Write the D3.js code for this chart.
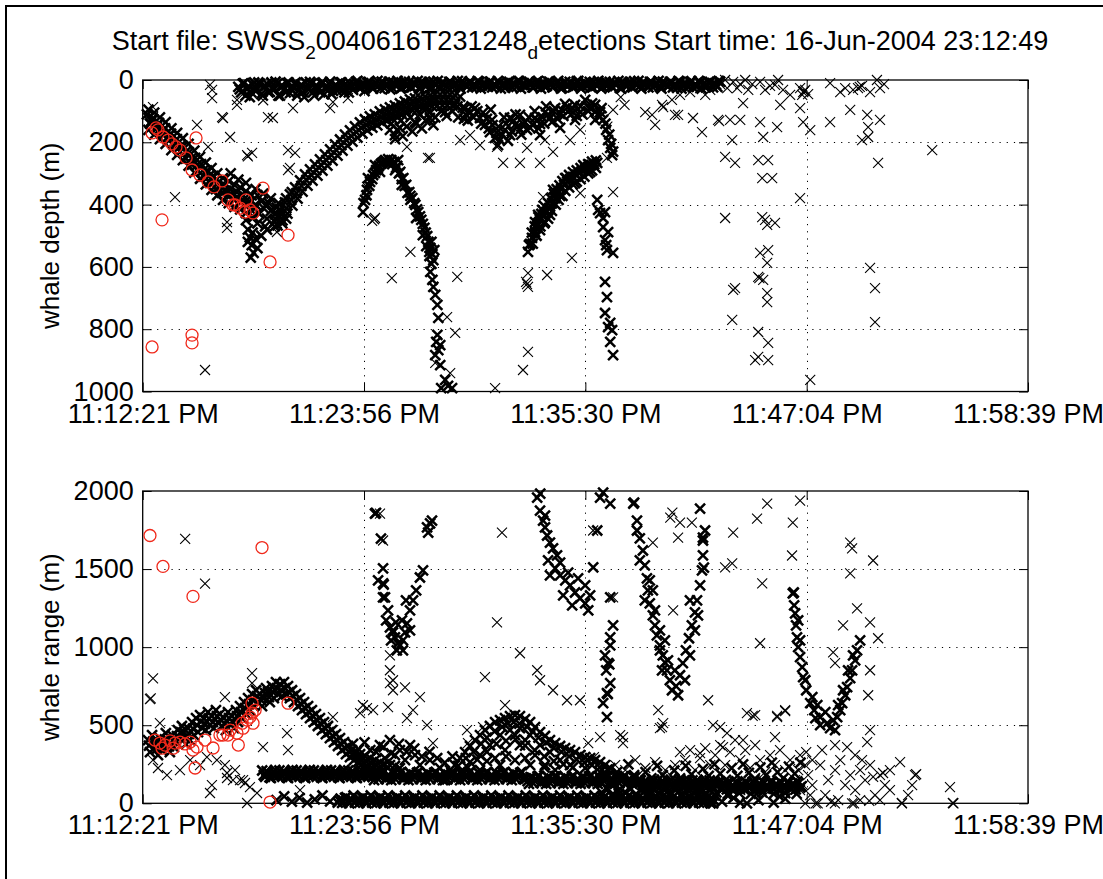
<!DOCTYPE html>
<html>
<head>
<meta charset="utf-8">
<script src="https://cdn.jsdelivr.net/npm/d3@7"></script>
<style>
  html, body { margin: 0; padding: 0; background: #fff; }
  svg { display: block; }
  text { font-family: "Liberation Sans", Arial, Helvetica, sans-serif; fill: #000; }
</style>
</head>
<body>
<svg id="fig" width="1103" height="879"></svg>
<script>
// ---- axis labels and ticks ----
const titleParts = ["Start file: SWSS", "2", "0040616T231248", "d", "etections Start time: 16-Jun-2004 23:12:49"];
const timeTicks = [0, 11.575, 23.15, 34.725, 46.3];           // minutes after 23:12:21
const timeTickLabels = ["11:12:21 PM", "11:23:56 PM", "11:35:30 PM", "11:47:04 PM", "11:58:39 PM"];
const depthTicks = [0, 200, 400, 600, 800, 1000];
const rangeTicks = [0, 500, 1000, 1500, 2000];

// ---- whale depth detections: [minutes after 23:12:21, depth m] ----
const depthSurface = [
[5.0,22],[5.15,40],[5.3,10],[5.45,30],[5.6,55],[5.75,15],[5.9,35],[6.05,8],[6.2,45],[6.35,20],[6.5,12],[6.65,38],[6.8,25],[6.95,5],[7.1,50],[7.25,18],[7.4,30],[7.55,10],[7.7,42],[7.85,22],
[8.0,8],[8.15,35],[8.3,15],[8.45,55],[8.6,25],[8.75,6],[8.9,40],[9.05,18],[9.2,30],[9.35,10],[9.5,45],[9.65,22],[9.8,5],[9.95,35],[10.1,15],[10.25,28],[10.4,8],[10.55,40],[10.7,20],[10.85,12],
[11.0,32],[11.15,6],[11.3,24],[11.45,14],[11.6,36],[11.75,8],[11.9,20],[12.05,28],[12.2,10],[12.35,18],[12.5,5],[12.65,26],[12.8,14],[12.95,30],[13.1,8],[13.25,20],[13.4,12],[13.55,25],[13.7,4],[13.85,17],
[14.0,22],[14.15,9],[14.3,15],[14.45,26],[14.6,6],[14.75,18],[14.9,12],[15.05,24],[15.2,5],[15.35,16],[15.5,21],[15.65,9],[15.8,14],[15.95,25],[16.1,6],[16.25,18],[16.4,11],[16.55,22],[16.7,4],[16.85,16],
[17.0,20],[17.15,8],[17.3,14],[17.45,24],[17.6,6],[17.75,17],[17.9,11],[18.05,22],[18.2,5],[18.35,15],[18.5,20],[18.65,9],[18.8,14],[18.95,25],[19.1,6],[19.25,18],[19.4,11],[19.55,22],[19.7,4],[19.85,16],
[20.0,20],[20.15,8],[20.3,14],[20.45,24],[20.6,6],[20.75,17],[20.9,11],[21.05,22],[21.2,5],[21.35,15],[21.5,20],[21.65,9],[21.8,14],[21.95,25],[22.1,6],[22.25,18],[22.4,11],[22.55,22],[22.7,4],[22.85,16],
[23.0,20],[23.15,8],[23.3,14],[23.45,24],[23.6,6],[23.75,17],[23.9,11],[24.05,22],[24.2,5],[24.35,15],[24.5,20],[24.65,9],[24.8,14],[24.95,25],[25.1,6],[25.25,18],[25.4,11],[25.55,22],[25.7,4],[25.85,16],
[26.0,20],[26.15,8],[26.3,14],[26.45,24],[26.6,6],[26.75,17],[26.9,11],[27.05,22],[27.2,5],[27.35,15],[27.5,20],[27.65,9],[27.8,14],[27.95,25],[28.1,6],[28.25,18],[28.4,11],[28.55,22],[28.7,4],[28.85,16],
[29.0,20],[29.15,8],[29.3,14],[29.45,24],[29.6,6],[29.75,17],[29.9,11],[30.05,22],[30.2,5],
[5.08,30],[5.23,12],[5.38,50],[5.53,20],[5.68,40],[5.83,8],[5.98,30],[6.13,12],[6.28,50],[6.43,20],[6.58,40],[6.73,8],[6.88,30],[7.03,12],[7.18,50],[7.33,20],[7.48,40],[7.63,8],[7.78,30],[7.93,12],
[8.08,50],[8.23,20],[8.38,40],[8.53,8],[8.68,30],[8.83,12],[8.98,50],[9.13,20],[9.28,40],[9.43,8],[9.58,30],[9.73,12],[9.88,45],[10.03,20],[10.18,35],[10.33,8],[10.48,30],[10.63,12],[10.78,40],[10.93,20],
[11.08,15],[11.23,3],[11.38,28],[11.53,10],[11.68,20],[11.83,6],[11.98,24],[12.13,15],[12.28,3],[12.43,28],[12.58,10],[12.73,20],[12.88,6],[13.03,24],[13.18,15],[13.33,3],[13.48,28],[13.63,10],[13.78,20],[13.93,6],
[14.08,24],[14.23,15],[14.38,3],[14.53,28],[14.68,10],[14.83,20],[14.98,6],[15.13,24],[15.28,15],[15.43,3],[15.58,28],[15.73,10],[15.88,20],[16.03,6],[16.18,24],[16.33,15],[16.48,3],[16.63,28],[16.78,10],[16.93,20],
[17.08,6],[17.23,24],[17.38,15],[17.53,3],[17.68,28],[17.83,10],[17.98,20],[18.13,6],[18.28,24],[18.43,15],[18.58,3],[18.73,28],[18.88,10],[19.03,20],[19.18,6],[19.33,24],[19.48,15],[19.63,3],[19.78,28],[19.93,10],
[20.08,20],[20.23,6],[20.38,24],[20.53,15],[20.68,3],[20.83,28],[20.98,10],[21.13,20],[21.28,6],[21.43,24],[21.58,15],[21.73,3],[21.88,28],[22.03,10],[22.18,20],[22.33,6],[22.48,24],[22.63,15],[22.78,3],[22.93,28],
[23.08,10],[23.23,20],[23.38,6],[23.53,24],[23.68,15],[23.83,3],[23.98,28],[24.13,10],[24.28,20],[24.43,6],[24.58,24],[24.73,15],[24.88,3],[25.03,28],[25.18,10],[25.33,20],[25.48,6],[25.63,24],[25.78,15],[25.93,3],
[26.08,28],[26.23,10],[26.38,20],[26.53,6],[26.68,24],[26.83,15],[26.98,3],[27.13,28],[27.28,10],[27.43,20],[27.58,6],[27.73,24],[27.88,15],[28.03,3],[28.18,28],[28.33,10],[28.48,20],[28.63,6],[28.78,24],[28.93,15],
[29.08,3],[29.23,28],[29.38,10],[29.53,20],[29.68,6],[29.83,24],[29.98,15],[30.13,3]
];
const depthDescent = [
[0.22,110],[0.38,140],[0.54,125],[0.70,158],[0.85,138],[1.01,172],[1.17,155],[1.32,192],[1.48,172],[1.64,210],[1.79,190],[1.95,230],[2.11,212],[2.26,252],[2.42,232],[2.58,272],[2.74,250],[2.89,292],
[3.05,270],[3.21,310],[3.36,290],[3.52,330],[3.68,308],[3.83,350],[3.99,326],[4.15,362],[4.30,338],[4.46,372],[4.62,350],[4.77,385],[4.93,360],[5.09,392],[5.25,370],[5.40,405],[5.56,390],[5.72,420],
[0.3,95],[0.3,160],[0.6,105],[0.6,175],[0.9,120],[0.9,190],[1.2,135],[1.2,205],[1.5,155],[1.5,225],[1.8,170],[1.8,240],[2.1,187],[2.1,257],[2.4,205],[2.4,275],[2.7,227],[2.7,297],[3.0,247],[3.0,317],
[3.3,265],[3.3,335],[3.6,283],[3.6,353],[3.9,300],[3.9,370],[4.2,315],[4.2,385],[4.5,325],[4.5,395],[4.8,337],[4.8,407],[5.1,345],[5.1,415],[5.4,357],[5.4,427],[5.7,370],[5.7,440],
[0.45,132],[0.75,148],[1.05,162],[1.35,180],[1.65,198],[1.95,213],[2.25,231],[2.55,251],[2.85,272],[3.15,291],[3.45,309],[3.75,326],[4.05,342],[4.35,355],[4.65,366],[4.95,376],[5.25,386],[5.55,398],
[5.9,400],[6.1,430],[6.3,410],[6.5,445],[6.7,420],[6.9,455],[7.1,435],[7.3,460],[6.0,460],[6.4,470],[5.8,440],[6.2,390],[6.6,395],[7.0,410],
[4.6,300],[5.0,320],[5.4,330],[5.9,350],[6.3,365],[6.7,380],[7.1,395],[7.5,380],[7.8,360],[6.0,370],[6.5,400],[7.2,420],[6.9,470],[6.5,480],[6.2,500],[7.5,445],
[5.4,450],[5.5,480],[5.6,505],[5.7,530],[5.8,555],[5.5,520],[5.65,570],[5.9,510],[5.75,490],[6.0,540]
];
const depthAscent = [
[6.92,431],[7.05,467],[7.18,415],[7.31,451],[7.44,393],[7.57,429],[7.70,367],[7.83,403],[7.97,345],[8.10,381],[8.23,322],[8.36,358],[8.49,303],[8.62,339],[8.75,287],[8.88,323],
[9.01,271],[9.14,307],[9.27,255],[9.40,291],[9.53,239],[9.66,275],[9.80,223],[9.93,259],[10.06,207],[10.19,243],[10.32,191],[10.45,227],[10.58,175],[10.71,211],[10.84,162],[10.97,198],
[11.10,149],[11.23,185],[11.36,136],[11.49,172],[11.62,126],[11.75,162],[11.88,117],[12.01,153],[12.14,110],[12.27,146],[12.40,101],[12.53,137],[12.67,94],[12.80,130],[12.93,88],[13.06,124],
[13.19,82],[13.32,118],[13.45,75],[13.58,111],[13.71,69],[13.84,105],[13.98,62],[14.11,98],[14.24,59],[14.37,95],[14.50,56],[14.63,92],[14.76,53],[14.89,89],[15.02,49],[15.15,85],
[15.28,46],[15.41,82],[15.55,46],[15.68,82],[15.81,46],[15.94,82],[16.07,46],[16.20,82],[16.33,49],[16.46,85],[16.60,53],[16.73,89],
[6.98,449],[7.25,433],[7.51,411],[7.77,385],[8.04,363],[8.30,340],[8.56,321],[8.82,305],[9.08,289],[9.34,273],[9.60,257],[9.87,241],[10.13,225],[10.39,209],[10.65,193],[10.91,180],
[11.17,167],[11.43,154],[11.69,144],[11.95,135],[12.21,128],[12.47,119],[12.74,112],[13.00,106],[13.26,100],[13.52,93],[13.78,87],[14.05,80],[14.31,77],[14.57,74],[14.83,71],[15.09,67],
[15.35,64],[15.62,64],[15.88,64],[16.14,64],[16.40,67]
];
const depthMidBand = [
[16.86,90],[17.12,103],[17.38,90],[17.64,122],[17.90,144],[18.16,167],[18.42,186],[18.69,193],[18.95,160],[19.21,177],[19.47,144],[19.73,160],[20.00,135],[20.26,154],[20.52,122],[20.78,141],
[21.04,103],[21.30,122],[21.57,90],[21.83,109],[22.09,77],[22.35,96],[22.61,80],[22.88,103],[23.14,64],[23.40,90],[23.66,80],[23.92,103],[24.08,128],[24.24,160],[24.34,193],[24.45,218],[24.55,241],
[18.58,209],[18.27,128],[19.21,122],[19.73,112],[20.78,177],[21.83,154],[22.61,128],[23.66,128],[16.33,80],[15.81,103],[15.02,122],[14.24,135],[13.45,154],[13.19,177],[12.93,160],
[16.9,110],[17.0,130],[17.3,120],[17.5,100],[17.7,140],[17.8,105],[18.0,125],[18.1,155],[18.3,145],[18.5,170],[18.6,150],[18.8,175],[19.0,140],[19.1,195],[19.3,165],[19.4,130],[19.6,150],[19.8,175],
[19.9,140],[20.1,160],[20.2,120],[20.4,145],[20.6,130],[20.7,155],[20.9,120],[21.0,140],[21.2,110],[21.4,135],[21.5,100],[21.7,125],[21.9,95],[22.0,115],[22.2,88],[22.4,110],[22.5,92],[22.7,115],
[22.9,85],[23.0,110],[23.3,100],[23.5,75],[23.7,100],[23.9,118],[24.0,90],[24.2,140],[24.4,175],[24.5,205],[24.6,230],[18.9,120],[19.5,110],[20.5,100],[21.1,85],[17.2,85],[18.2,95],
[13.0,140],[13.3,160],[13.5,130],[13.8,150],[14.0,120],[14.3,140],[14.5,110],[14.8,130],[15.0,105],[15.3,120],[15.6,100],[15.9,115],[16.2,100],[16.5,120],[16.8,125],
[13.2,190],[13.6,180],[14.1,165],[14.6,155],[15.2,145]
];
const depthDive1 = [
[11.52,424],[11.63,385],[11.73,353],[11.89,327],[12.05,305],[12.21,289],[12.36,276],[12.52,266],[12.68,257],[12.84,254],[13.00,257],[13.15,263],[13.31,276],[13.47,295],[13.63,315],[13.78,337],
[13.94,360],[14.10,379],[14.26,401],[14.41,424],[14.57,449],[14.73,475],[14.88,501],[14.94,520],[15.04,539],[15.15,559],[14.99,552],[15.25,546],[14.83,533],[15.20,578],
[11.78,315],[12.15,273],[13.2,289],[13.55,337],[14.0,385],[14.3,443],[14.65,498],[13.36,257],[12.41,295],
[11.55,395],[11.7,370],[11.85,340],[12.0,318],[12.15,298],[12.3,282],[12.45,270],[12.6,262],[12.75,262],[12.9,265],[13.05,270],[13.25,282],[13.4,300],[13.55,318],[13.7,340],[13.85,362],
[14.0,372],[14.2,395],[14.35,415],[14.5,438],[14.65,462],[14.8,490],[15.1,520],[15.0,565],[15.1,590],
[15.04,616],[15.15,642],[15.2,664],[15.30,690],[15.41,722],[15.46,764],[15.41,818],[15.35,841],[15.46,867],[15.56,851],[15.30,883],[15.56,915],[15.82,963],[15.97,982],[15.61,989],[16.18,989]
];
const depthDive2 = [
[20.15,552],[20.26,526],[20.36,507],[20.52,488],[20.63,469],[20.78,449],[20.94,437],[21.10,424],[21.25,411],[21.41,395],[21.57,379],[21.73,363],[21.88,350],[22.04,337],[22.20,327],[22.35,318],
[22.51,311],[22.67,305],[22.82,299],[22.98,292],[23.14,286],[23.30,279],[23.45,273],[23.61,270],[23.77,266],
[20.68,433],[21.04,456],[21.30,433],[20.89,417],[21.46,353],[21.83,372],[22.1,315],[22.61,331],[23.04,273],[23.40,295],[20.78,482],[20.52,456],
[20.2,530],[20.35,490],[20.5,470],[20.7,440],[20.85,430],[21.0,405],[21.2,395],[21.35,380],[21.5,365],[21.65,350],[21.8,338],[21.95,325],[22.15,315],[22.3,305],[22.5,296],[22.7,290],
[22.9,283],[23.1,277],[23.3,270],[23.5,262],[23.7,258],
[20.4,525],[20.6,500],[20.8,470],[21.0,460],[21.2,445],[21.4,420],[21.6,400],[21.75,385],[21.95,372],[22.1,356],[22.3,345],[22.5,335],[22.7,326],[22.9,318],[23.1,310],[23.3,300],[23.5,290],[23.7,282]
];
const depthDive3 = [
[23.92,427],[24.08,443],[23.82,417],[24.18,424],[24.08,472],[24.18,514],[24.24,530],[24.28,546],[24.60,555],[24.18,648],[24.28,697],[24.18,748],[24.45,780],[24.34,793],[24.55,803],[24.45,841],[24.60,883],[23.77,385],[24.34,488]
];
const depthScatter = [
[0.54,87],[0.54,119],[0.38,135],[0.42,140],[3.63,32],[3.63,58],[4.15,119],[4.2,122],[4.93,80],[4.93,64],[2.84,144],[3.42,215],[4.57,183],[5.46,241],[5.5,245],[5.72,234],[6.55,119],[7.86,90],
[7.60,225],[7.97,234],[7.60,289],[9.95,71],[9.80,90],[10.73,58],[4.41,456],[4.41,475],[7.02,488],[1.69,376],[3.26,931],[6.81,122],[7.70,282],[3.52,16],[5.4,48],[5.9,20],[6.3,65],
[16.45,632],[16.34,812],[15.92,761],[16.08,941],[15.30,908],[18.43,989],[14.0,552],[13.03,636],[14.92,250],[12.15,443],[12.0,452],[12.1,447],[11.73,343],
[20.15,620],[20.15,664],[20.05,648],[20.1,655],[20.94,376],[22.88,363],[21.15,626],[22.45,571],[20.15,873],[19.89,931],
[18.85,266],[19.73,266],[20.78,266],[21.46,231],[17.12,177],[15.02,250],[13.82,215],[20.10,218],[18.53,215],[24.6,360],[24.28,250],[17.64,209],[16.60,193],[22.35,193],[22.88,160],[21.04,193],
[23.2,85],[23.5,110],[24.6,96],[25.0,55],[24.3,150],[26.28,103],[26.8,144],[25.2,80],[26.64,112],[27.16,80],[27.84,112],
[30.2,13],[30.46,0],[30.57,26],[30.88,6],[31.09,26],[31.25,13],[31.51,0],[31.67,32],[31.88,13],[32.29,6],[32.55,32],[32.81,19],[33.07,16],[33.23,0],[33.49,32],[33.86,48],[34.38,26],[34.54,39],[34.65,32],[34.6,36],
[34.80,45],[34.49,48],[35.95,10],[36.48,39],[36.74,26],[37.15,32],[37.41,26],[37.62,19],[37.5,22],[38.04,39],[38.40,0],[38.56,26],[38.77,13],[29.15,26],[29.42,48],[29.68,32],[28.63,39],[28.10,48],[27.68,64],
[27.22,87],[28.0,112],[28.78,122],[29.25,167],[30.09,128],[30.15,132],[30.72,128],[30.83,193],[31.25,128],[31.40,74],[32.29,135],[32.45,183],[33.18,151],[33.34,80],[34.38,90],[34.54,135],[34.91,161],
[35.95,135],[37.0,96],[37.89,112],[38.56,128],[37.94,151],[37.62,193],[37.94,183],[30.46,247],[30.98,266],[32.19,257],[32.71,257],[32.40,315],[32.92,315],[34.38,379],[38.46,266],[41.29,225],
[30.46,443],[32.40,440],[32.55,449],[32.66,465],[33.07,459],[32.29,555],[32.71,546],[32.66,587],[32.19,632],[32.25,636],[32.45,642],[32.66,684],[32.66,713],[30.88,674],[30.98,668],[30.83,770],
[32.19,809],[32.71,844],[32.03,899],[32.19,889],[32.71,899],[34.91,963],[38.04,603],[38.30,668],[38.30,777]
];
const depthRed = [
[0.49,170],[0.80,160],[0.7,154],[1.06,183],[1.32,193],[1.53,205],[1.74,215],[1.95,225],[2.27,250],[2.79,186],[1.01,449],[2.58,289],[3.0,305],[3.42,327],[3.73,343],[4.15,324],
[4.46,385],[4.72,401],[4.83,401],[5.09,411],[5.35,424],[5.40,385],[5.61,417],[5.77,427],[6.29,347],[7.60,498],[6.66,584],[0.49,857],[2.58,819],[2.58,844]
];

// ---- whale range detections: [minutes after 23:12:21, range m] ----
const rangeEarlyBand = [
[0.28,405],[0.38,328],[0.49,437],[0.59,353],[0.70,392],[0.80,309],[0.90,417],[1.00,341],[1.11,373],[1.21,449],[1.32,405],[1.42,328],[1.53,437],[1.63,360],[1.74,392],[1.84,469],
[1.95,417],[2.05,495],[2.16,456],[2.26,379],[2.37,482],[2.47,405],[2.58,520],[2.68,437],[2.79,546],[2.89,456],[3.00,565],[3.10,482],[3.20,546],[3.30,469],[3.41,584],[3.51,501],
[3.62,558],[3.72,482],[3.83,597],[3.93,520],[4.04,571],[4.14,495],[4.25,546],[4.35,469],[4.46,584],[4.56,507],[4.67,558],[4.77,482],[4.88,597],[4.98,520],[5.09,622],[5.19,546],
[5.30,648],[5.40,571],[5.51,673],[5.61,597],[5.72,699],[5.82,622],[5.93,724],[6.03,648],[6.14,699],[6.24,622],[6.35,673],[6.45,737],[6.55,712],[6.65,648],[6.76,750],[6.86,673],
[6.97,776],[7.07,699],[7.18,763],[7.28,686],[7.39,776],[7.49,699],[7.60,750],[7.70,673],[7.81,724],[7.91,648],[8.02,699],[8.12,622],[8.23,673],[8.33,597],[8.44,648],[8.54,571],
[8.65,622],[8.75,546],[8.85,597],[8.95,520],[9.06,571],[9.16,495],[9.27,546],[9.37,469],[9.48,520],[9.58,443],[9.69,495],[9.79,417],[9.90,469],[10.00,392],[10.11,443],[10.21,367],
[10.32,417],[10.42,341],[10.53,392],[10.63,315],[10.74,367],[10.84,296],[10.95,341],[11.05,277],[11.16,328],[11.26,264],[11.37,315],[11.47,251],[11.63,302],[11.73,239],[11.90,290],[12.00,226],
[12.15,277],[12.25,213],[12.41,264],[12.51,207],[12.67,251],[12.93,245],[13.19,239],[13.45,226],
[0.33,370],[0.54,395],[0.75,350],[0.95,380],[1.16,410],[1.37,365],[1.58,400],[1.79,430],[2.0,455],[2.21,418],[2.42,445],[2.63,478],[2.84,500],[3.05,523],[3.25,508],[3.46,542],
[3.67,520],[3.88,558],[4.09,533],[4.30,508],[4.51,545],[4.72,520],[4.93,558],[5.14,584],[5.35,610],[5.56,635],[5.77,660],[5.98,686],[6.19,660],[6.40,705],[6.60,680],[6.81,712],
[7.02,738],[7.23,725],[7.44,738],[7.65,712],[7.86,686],[8.07,660],[8.28,635],[8.49,610],[8.70,584],[8.90,558],[9.11,533],[9.32,508],[9.53,482],[9.74,456],[9.95,430],[10.16,405],
[10.37,379],[10.58,354],[10.79,331],[11.00,309],[11.21,296],[11.42,283],[11.68,270],[11.95,258],[12.20,245],[12.46,235]
];
const rangeBandUpper = [
[6.25,210],[6.40,170],[6.55,196],[6.70,162],[6.85,202],[7.00,182],[7.15,210],[7.30,170],[7.45,196],[7.60,162],[7.75,202],[7.90,182],[8.05,210],[8.20,170],[8.35,196],[8.50,162],[8.65,202],[8.80,182],
[8.95,210],[9.10,170],[9.25,196],[9.40,162],[9.55,202],[9.70,182],[9.85,210],[10.00,170],[10.15,196],[10.30,162],[10.45,202],[10.60,182],[10.75,210],[10.90,170],[11.05,196],[11.20,162],[11.35,202],[11.50,182],
[11.65,210],[11.80,170],[11.95,196],[12.10,149],[12.25,189],[12.40,169],[12.55,197],[12.70,157],[12.85,183],[13.00,149],[13.15,189],[13.30,169],[13.45,197],[13.60,157],[13.75,183],[13.90,149],[14.05,189],[14.20,169],
[14.35,197],[14.50,157],[14.65,183],[14.80,149],[14.95,189],[15.10,169],[15.25,197],[15.40,157],[15.55,183],[15.70,149],[15.85,189],[16.00,169],[16.15,197],[16.30,157],[16.45,183],[16.60,149],[16.75,189],[16.90,169],
[17.05,197],[17.20,157],[17.35,183],[17.50,149],[17.65,189],[17.80,169],[17.95,197],[18.10,157],[18.25,183],[18.40,149],[18.55,189],[18.70,169],[18.85,197],[19.00,157],[19.15,183],[19.30,149],[19.45,189],[19.60,169],
[19.75,197],[19.90,157],[20.05,158],[20.20,124],[20.35,164],[20.50,144],[20.65,172],[20.80,132],[20.95,158],[21.10,124],[21.25,164],[21.40,144],[21.55,172],[21.70,132],[21.85,158],[22.00,124],[22.15,164],[22.30,144],
[22.45,172],[22.60,132],[22.75,158],[22.90,124],[23.05,164],[23.20,144],[23.35,172],[23.50,132],[23.65,158],[23.80,124],[23.95,164],[24.10,144],[24.25,172],[24.40,132],[24.55,158],[24.70,124],[24.85,164],[25.00,144],
[25.15,172],[25.30,132],[25.45,158],[25.60,124],[25.75,164],[25.90,144],[26.05,147],[26.20,107],[26.35,133],[26.50,99],[26.65,139],[26.80,119],[26.95,147],[27.10,107],[27.25,133],[27.40,99],[27.55,139],[27.70,119],
[27.85,147],[28.00,107],[28.15,133],[28.30,99],[28.45,139],[28.60,119],[28.75,147],[28.90,107],[29.05,133],[29.20,99],[29.35,139],[29.50,119],[29.65,147],[29.80,107],[29.95,133],[30.10,137],[30.25,97],[30.40,123],
[30.55,89],[30.70,129],[30.85,109],[31.00,137],[31.15,97],[31.30,123],[31.45,89],[31.60,129],[31.75,109],[31.90,137],[32.05,97],[32.20,123],[32.35,89],[32.50,129],[32.65,109],[32.80,137],[32.95,97],[33.10,123],
[33.25,89],[33.40,129],[33.55,109],[33.70,137],[33.85,97],[34.00,123],[34.15,89],[34.30,129],[34.45,109],
[6.33,180],[6.48,206],[6.63,166],[6.78,192],[6.93,214],[7.08,174],[7.23,180],[7.38,206],[7.53,166],[7.68,192],[7.83,214],[7.98,174],[8.13,180],[8.28,206],[8.43,166],[8.58,192],[8.73,214],[8.88,174],
[9.03,180],[9.18,206],[9.33,166],[9.48,192],[9.63,214],[9.78,174],[9.93,180],[10.08,206],[10.23,166],[10.38,192],[10.53,214],[10.68,174],[10.83,180],[10.98,206],[11.13,166],[11.28,192],[11.43,214],[11.58,174],
[11.73,180],[11.88,206],[12.03,167],[12.18,193],[12.33,153],[12.48,179],[12.63,201],[12.78,161],[12.93,167],[13.08,193],[13.23,153],[13.38,179],[13.53,201],[13.68,161],[13.83,167],[13.98,193],[14.13,153],[14.28,179],
[14.43,201],[14.58,161],[14.73,167],[14.88,193],[15.03,153],[15.18,179],[15.33,201],[15.48,161],[15.63,167],[15.78,193],[15.93,153],[16.08,179],[16.23,201],[16.38,161],[16.53,167],[16.68,193],[16.83,153],[16.98,179],
[17.13,201],[17.28,161],[17.43,167],[17.58,193],[17.73,153],[17.88,179],[18.03,201],[18.18,161],[18.33,167],[18.48,193],[18.63,153],[18.78,179],[18.93,201],[19.08,161],[19.23,167],[19.38,193],[19.53,153],[19.68,179],
[19.83,201],[19.98,161],[20.13,142],[20.28,168],[20.43,128],[20.58,154],[20.73,176],[20.88,136],[21.03,142],[21.18,168],[21.33,128],[21.48,154],[21.63,176],[21.78,136],[21.93,142],[22.08,168],[22.23,128],[22.38,154],
[22.53,176],[22.68,136],[22.83,142],[22.98,168],[23.13,128],[23.28,154],[23.43,176],[23.58,136],[23.73,142],[23.88,168],[24.03,128],[24.18,154],[24.33,176],[24.48,136],[24.63,142],[24.78,168],[24.93,128],[25.08,154],
[25.23,176],[25.38,136],[25.53,142],[25.68,168],[25.83,128],[25.98,154],[26.13,117],[26.28,143],[26.43,103],[26.58,129],[26.73,151],[26.88,111],[27.03,117],[27.18,143],[27.33,103],[27.48,129],[27.63,151],[27.78,111],
[27.93,117],[28.08,143],[28.23,103],[28.38,129],[28.53,151],[28.68,111],[28.83,117],[28.98,143],[29.13,103],[29.28,129],[29.43,151],[29.58,111],[29.73,117],[29.88,143],[30.03,107],[30.18,133],[30.33,93],[30.48,119],
[30.63,141],[30.78,101],[30.93,107],[31.08,133],[31.23,93],[31.38,119],[31.53,141],[31.68,101],[31.83,107],[31.98,133],[32.13,93],[32.28,119],[32.43,141],[32.58,101],[32.73,107],[32.88,133],[33.03,93],[33.18,119],
[33.33,141],[33.48,101],[33.63,107],[33.78,133],[33.93,93],[34.08,119],[34.23,141],[34.38,101]
];
const rangeBandLower = [
[7.0,20],[7.4,45],[7.8,10],[8.2,35],[8.6,5],[9.0,25],[9.4,50],[9.8,12],
[10.20,5],[10.35,30],[10.50,15],[10.65,40],[10.80,0],[10.95,22],[11.10,5],[11.25,30],[11.40,15],[11.55,40],[11.70,0],[11.85,22],[12.00,5],[12.15,30],[12.30,15],[12.45,40],[12.60,0],[12.75,22],
[12.90,5],[13.05,30],[13.20,15],[13.35,40],[13.50,0],[13.65,22],[13.80,5],[13.95,30],[14.10,15],[14.25,40],[14.40,0],[14.55,22],[14.70,5],[14.85,30],[15.00,15],[15.15,40],[15.30,0],[15.45,22],
[15.60,5],[15.75,30],[15.90,15],[16.05,40],[16.20,0],[16.35,22],[16.50,5],[16.65,30],[16.80,15],[16.95,40],[17.10,0],[17.25,22],[17.40,5],[17.55,30],[17.70,15],[17.85,40],[18.00,0],[18.15,22],
[18.30,5],[18.45,30],[18.60,15],[18.75,40],[18.90,0],[19.05,22],[19.20,5],[19.35,30],[19.50,15],[19.65,40],[19.80,0],[19.95,22],[20.10,5],[20.25,30],[20.40,15],[20.55,40],[20.70,0],[20.85,22],
[21.00,5],[21.15,30],[21.30,15],[21.45,40],[21.60,0],[21.75,22],[21.90,5],[22.05,30],[22.20,15],[22.35,40],[22.50,0],[22.65,22],[22.80,5],[22.95,30],[23.10,15],[23.25,40],[23.40,0],[23.55,22],
[23.70,5],[23.85,30],[24.00,15],[24.15,40],[24.30,0],[24.45,22],[24.60,5],[24.75,30],[24.90,15],[25.05,40],[25.20,0],[25.35,22],[25.50,5],[25.65,30],[25.80,15],[25.95,40],[26.10,0],[26.25,22],
[26.40,5],[26.55,30],[26.70,15],[26.85,40],[27.00,0],[27.15,22],[27.30,5],[27.45,30],[27.60,15],[27.75,40],[27.90,0],[28.05,22],[28.20,5],[28.35,30],[28.50,15],[28.65,40],[28.80,0],[28.95,22],
[29.10,5],[29.25,30],[29.40,15],[29.55,40],[29.70,0],[29.85,22],
[10.28,18],[10.43,2],[10.58,35],[10.73,10],[10.88,28],[11.03,50],[11.18,18],[11.33,2],[11.48,35],[11.63,10],[11.78,28],[11.93,50],[12.08,18],[12.23,2],[12.38,35],[12.53,10],[12.68,28],[12.83,50],
[12.98,18],[13.13,2],[13.28,35],[13.43,10],[13.58,28],[13.73,50],[13.88,18],[14.03,2],[14.18,35],[14.33,10],[14.48,28],[14.63,50],[14.78,18],[14.93,2],[15.08,35],[15.23,10],[15.38,28],[15.53,50],
[15.68,18],[15.83,2],[15.98,35],[16.13,10],[16.28,28],[16.43,50],[16.58,18],[16.73,2],[16.88,35],[17.03,10],[17.18,28],[17.33,50],[17.48,18],[17.63,2],[17.78,35],[17.93,10],[18.08,28],[18.23,50],
[18.38,18],[18.53,2],[18.68,35],[18.83,10],[18.98,28],[19.13,50],[19.28,18],[19.43,2],[19.58,35],[19.73,10],[19.88,28],[20.03,50],[20.18,18],[20.33,2],[20.48,35],[20.63,10],[20.78,28],[20.93,50],
[21.08,18],[21.23,2],[21.38,35],[21.53,10],[21.68,28],[21.83,50],[21.98,18],[22.13,2],[22.28,35],[22.43,10],[22.58,28],[22.73,50],[22.88,18],[23.03,2],[23.18,35],[23.33,10],[23.48,28],[23.63,50],
[23.78,18],[23.93,2],[24.08,35],[24.23,10],[24.38,28],[24.53,50],[24.68,18],[24.83,2],[24.98,35],[25.13,10],[25.28,28],[25.43,50],[25.58,18],[25.73,2],[25.88,35],[26.03,10],[26.18,28],[26.33,50],
[26.48,18],[26.63,2],[26.78,35],[26.93,10],[27.08,28],[27.23,50],[27.38,18],[27.53,2],[27.68,35],[27.83,10],[27.98,28],[28.13,50],[28.28,18],[28.43,2],[28.58,35],[28.73,10],[28.88,28],[29.03,50],
[29.18,18],[29.33,2],[29.48,35],[29.63,10],[29.78,28],[29.93,50]
];
const rangeHump = [
[15.81,149],[16.07,213],[16.33,245],[16.60,290],[16.86,328],[17.12,367],[17.38,405],[17.64,437],[17.90,469],[18.16,495],[18.43,520],[18.69,533],[18.95,546],[19.21,558],[19.47,565],[19.73,558],
[20.0,539],[20.26,520],[20.52,488],[20.78,456],[21.04,431],[21.30,405],[21.57,386],[21.83,367],[22.09,354],[22.35,341],[22.61,328],[22.88,309],[23.14,296],[23.40,290],[23.66,277],[23.92,264],[24.18,245],[24.45,226],
[16.60,200],[17.12,264],[17.64,309],[18.16,373],[18.69,437],[19.21,469],[19.73,482],[20.26,437],[20.78,373],[21.30,328],[21.83,277],[22.35,245],[23.14,226],[17.64,213],[18.69,245],[19.73,373],
[19.47,437],[20.0,405],[18.95,341],[18.43,290],[20.52,309],[21.04,245],[19.47,277],[20.26,245],[21.57,213],[23.92,200],
[16.2,180],[16.5,240],[16.9,290],[17.3,330],[17.7,380],[18.0,420],[18.4,460],[18.8,490],[19.1,510],[19.4,520],[19.7,510],[20.1,490],[20.4,460],[20.7,420],[21.1,390],[21.5,355],
[21.9,330],[22.3,300],[22.7,280],[23.1,260],[23.5,245],[23.9,230],[24.3,215],[17.0,230],[17.5,280],[18.0,330],[18.5,380],[19.0,400],[19.5,410],[20.0,370],[20.5,340],[21.0,300],
[21.5,270],[22.0,250],[22.5,230],[18.0,270],[19.0,300],[20.0,290],[21.0,230],[16.8,190],
[12.41,373],[12.93,405],[13.45,341],[13.98,373],[12.67,290],[13.19,309],[13.72,277],[14.24,309],[14.50,245],[15.02,277],[15.55,226],[11.90,341],
[11.0,380],[11.3,345],[11.6,390],[12.2,330],[12.6,360],[13.0,320],[13.4,380],[13.8,330],[14.2,350],[14.6,300],[15.0,330],[15.4,290],[15.8,260],[16.2,300]
];
const rangeRightMass = [
[24.2,180],[24.5,120],[24.8,200],[25.1,150],[25.4,250],[25.7,180],[26.0,130],[26.3,200],[26.6,160],[26.9,240],[27.2,180],[27.5,140],[27.8,210],[28.1,160],[28.4,240],[28.7,185],
[29.0,150],[29.3,220],[29.6,175],[29.9,250],[30.2,190],[30.5,150],[30.8,225],[31.1,175],[31.4,250],[31.7,195],[32.0,155],[32.3,230],[32.6,180],[32.9,260],[33.2,200],[33.5,160],
[33.8,235],[34.1,190],[34.4,260],[24.9,60],[26.2,70],[27.6,55],[29.1,65],[30.6,50],[32.1,60],[33.3,45],
[24.0,70],[24.3,90],[24.6,60],[24.9,85],[25.2,70],[25.5,90],[25.8,60],[26.1,85],[26.4,65],[26.7,90],[27.0,60],[27.3,85],[27.6,70],[27.9,90],[28.2,60],[28.5,85],
[28.8,65],[29.1,90],[29.4,60],[29.7,85],[30.0,70],[30.3,90],[30.6,60],[30.9,85],[31.2,65],[31.5,90],[31.8,60],[32.1,85],[32.4,70],[32.7,90],[33.0,60],[33.3,85],[33.6,65],[33.9,90],[34.2,60],
[30.3,10],[30.9,35],[31.6,0],[32.2,20],[33.0,5],[33.6,30],[29.83,0],[31.25,5]
];
const rangeDives = [
// first V
[12.15,1855],[12.2,1860],[12.46,1695],[12.57,1504],[12.57,1408],[12.6,1400],[12.67,1319],[12.83,1236],[12.93,1127],[13.09,1095],[13.19,1063],[13.36,1025],[13.45,1012],[13.61,1044],[13.72,1095],[13.82,1152],
[13.98,1236],[14.14,1299],[14.30,1363],[14.50,1446],[14.66,1491],[14.87,1767],[15.03,1792],[14.93,1734],[15.13,1811],[12.57,1319],[13.09,1108],[13.29,980],[13.56,1172],[12.31,1427],[12.73,1172],[12.99,1044],
[13.24,1159],[13.61,980],[13.98,1108],[13.77,1299],
// second descent
[20.63,1957],[20.79,1983],[20.78,1874],[20.94,1811],[21.04,1767],[21.15,1715],[21.30,1670],[21.46,1632],[21.67,1587],[21.83,1542],[21.57,1504],[21.83,1459],[22.10,1427],[22.35,1395],[22.61,1350],[22.87,1312],
[23.14,1280],[23.30,1236],[23.40,1331],[22.77,1440],[22.25,1478],[22.46,1267],[21.30,1459],[23.14,1395],[21.99,1331],[21.04,1842],[21.20,1555],[23.92,1958],[24.08,1990],[24.45,1919],[25.66,1919],[25.7,1925],
// third column
[23.77,1747],[23.56,1511],[24.45,1319],[24.45,1063],[24.45,1012],[24.34,897],[24.4,890],[24.24,852],[24.45,769],[24.28,705],[24.32,700],[24.08,641],[24.28,552],[24.60,1140],[24.18,948],
// fourth V
[25.85,1811],[25.85,1747],[26.0,1696],[26.16,1619],[26.26,1523],[26.37,1440],[26.42,1363],[26.52,1280],[26.68,1204],[26.79,1140],[26.89,1076],[27.05,1012],[27.20,948],[27.31,903],[27.42,852],[27.57,788],
[27.68,724],[27.89,750],[28.10,820],[28.25,897],[28.41,980],[28.57,1057],[28.72,1140],[28.88,1223],[28.99,1299],[29.15,1395],[29.25,1491],[29.30,1587],[29.30,1683],[29.41,1747],[29.30,1702],[29.35,1510],[29.15,1887],
[26.0,1555],[26.52,1427],[26.26,1299],[26.79,1236],[27.05,1108],[27.31,1044],[27.47,916],[27.83,852],[28.62,948],[28.88,1108],[28.36,788],[28.0,692],[27.16,852],[26.68,1363],[28.62,1299],[29.04,1204],[27.05,980],
// fifth U
[34.0,1344],[34.05,1350],[34.07,1267],[34.12,1216],[34.17,1140],[34.22,1063],[34.28,1000],[34.38,936],[34.49,872],[34.54,808],[34.70,724],[34.91,641],[35.12,597],[35.43,552],[35.80,513],[36.11,533],
[36.32,552],[36.48,597],[36.58,641],[36.74,692],[36.84,744],[37.0,801],[37.10,852],[37.26,916],[37.36,980],[37.52,1044],[34.28,1172],[34.38,1044],[34.65,788],[35.02,680],[35.28,629],[35.70,584],
[35.95,482],[35.43,501],[36.37,629],[36.63,724],[36.89,852],[37.15,948],[35.18,546],[36.21,469]
];
const rangeScatter = [
[2.22,1694],[3.26,1407],[0.54,800],[0.38,667],[0.42,672],[0.90,513],[0.54,277],[1.27,181],[0.80,226],[4.30,680],[5.72,833],[5.72,769],[6.29,360],[7.55,450],[7.60,341],[5.35,130],[3.52,66],[3.62,117],
[5.09,149],[4.41,162],[5.46,2],[8.23,85],[9.95,552],[11.37,577],[11.73,609],[12.05,597],[12.93,769],[12.93,852],[13.09,724],[11.52,628],
[3.36,296],[3.88,277],[4.41,194],[4.72,149],[5.25,149],[5.61,104],[5.98,66],[3.0,245],[2.48,277],[1.95,213],[4.83,213],[4.30,245],
[12.41,1855],[12.57,1683],[12.93,948],[13.09,788],[13.72,743],[14.50,680],[12.83,616],[14.14,597],[13.82,546],[14.87,501],[15.18,386],[16.96,469],[17.01,386],[17.80,488],[18.79,1734],[18.53,1159],
[19.73,961],[17.90,808],[20.63,852],[20.78,788],[21.46,724],[22.19,660],[22.87,660],[18.95,629],[23.56,1747],[24.60,1319],[25.12,424],[27.16,488],[27.74,1236],[27.59,1830],[26.68,1670],[27.7,1862],
[28.10,1798],[28.0,1702],[28.72,1798],[30.88,1734],[30.46,1511],[30.83,1536],[32.13,1823],[32.66,1919],[34.0,1798],[34.38,1938],[33.96,1587],[32.40,1408],[32.29,1025],[29.57,660],[31.60,577],[32.03,565],
[33.18,552],[33.60,597],[29.83,501],[37.0,1670],[37.0,1472],[37.10,1632],[38.20,1555],[37.36,1248],[38.04,1159],[38.46,1057],[38.04,852],[37.94,692],[36.21,897],[36.11,967],[36.63,1140],
[24.71,245],[25.24,213],[25.76,277],[26.28,226],[26.80,264],[27.33,213],[27.85,245],[28.37,277],[28.63,341],[28.89,213],[29.15,290],[29.42,354],[29.68,245],[29.94,309],[30.20,373],[30.46,245],
[30.72,328],[30.98,405],[31.25,277],[31.51,341],[31.77,226],[32.03,373],[32.29,277],[32.55,200],[32.81,309],[33.07,245],[33.33,341],[33.60,213],[33.86,277],
[25.12,386],[23.92,424],[26.96,597],[27.22,514],[28.10,328],[29.15,322],[30.20,488],[30.56,450],[31.40,405],[31.9,560],[33.18,560],[33.6,590],[30.35,360],[33.07,424],[23.3,386],[23.6,296],[27.05,482],[24.97,437],
[34.38,309],[34.65,245],[34.80,181],[34.54,117],[34.91,53],[34.28,213],[35.02,277],[34.70,328],[34.38,85],[34.12,149],[35.02,117],[34.65,0],
[35.43,245],[35.85,149],[36.21,213],[36.48,277],[36.74,117],[37.0,181],[37.26,85],[37.52,213],[37.78,149],[38.04,245],[38.30,53],[38.56,181],[38.82,117],[39.08,213],[36.84,360],[38.04,469],
[37.89,392],[38.20,169],[38.72,194],[39.61,264],[40.39,181],[40.45,186],[40.24,117],[42.22,104],[42.37,2],[39.71,2],[40.03,53],[35.70,53],[36.37,21],[37.52,21],[38.56,21],[35.53,341],[37.26,309],
[36.21,373],[37.62,277],[39.08,85],[31.77,117],[32.29,85],[32.81,136],[31.25,85],[32.55,53],[32.03,162],[27.05,0],[35.2,0],[36.2,0],[37.1,0],[35.3,0],[36.0,10],[37.2,0],[38.0,15],[39.7,0],[42.4,0]
];
const rangeRed = [
[0.38,1715],[1.06,1517],[2.63,1325],[6.24,1638],[7.60,641],[0.90,386],[1.17,373],[1.43,400],[1.69,386],[1.95,392],[2.21,380],[2.48,392],[2.84,360],[3.68,354],[2.74,226],[2.63,341],
[4.04,437],[4.20,437],[4.46,437],[4.57,469],[4.93,450],[5.0,373],[5.20,513],[5.25,481],[5.46,533],[5.61,552],[5.72,577],[5.72,641],[5.77,513],[5.88,597],[6.66,8],[0.64,405],[1.01,353],[1.59,353],[3.26,405]
];

// ---- layout ----
const svg = d3.select("#fig");
const W = 1103, H = 879;
const plotLeft = 142.7, plotRight = 1028;
const FONT = 27;
const x = d3.scaleLinear().domain([0, 46.3]).range([plotLeft, plotRight]);

svg.append("rect").attr("width", W).attr("height", H).attr("fill", "#fff");
// figure frame (left and top edges visible)
svg.append("path").attr("d", `M6,${H}V6H${W}`).attr("fill", "none").attr("stroke", "#000").attr("stroke-width", 2);

// title with TeX-style subscripts
const title = svg.append("text").attr("x", 580).attr("y", 50).attr("text-anchor", "middle").style("font-size", FONT + "px");
titleParts.forEach((s, i) => {
  const sub = i % 2 === 1;
  title.append("tspan").text(s)
    .attr("dy", sub ? 9 : (i > 0 ? -9 : 0))
    .style("font-size", sub ? "19px" : FONT + "px");
});

const xMarker = "M-5,-5L5,5M-5,5L5,-5";

function panel(top, bottom, y, yTicks, yLabel, bandSets, scatterSets, redSet) {
  const g = svg.append("g");
  // dotted grid at interior ticks
  const grid = g.append("g").attr("stroke", "#000").attr("stroke-width", 1).attr("stroke-dasharray", "1.2,6");
  grid.selectAll("line.v").data(timeTicks.slice(1, -1)).join("line")
    .attr("x1", d => Math.round(x(d)) + 0.5).attr("x2", d => Math.round(x(d)) + 0.5)
    .attr("y1", top).attr("y2", bottom);
  grid.selectAll("line.h").data(yTicks.slice(1, -1)).join("line")
    .attr("y1", d => Math.round(y(d)) + 0.5).attr("y2", d => Math.round(y(d)) + 0.5)
    .attr("x1", plotLeft).attr("x2", plotRight);

  // axes with inward ticks
  const fmtTime = (d, i) => timeTickLabels[i];
  const ax = [
    g.append("g").attr("transform", `translate(0,${bottom})`).call(d3.axisBottom(x).tickValues(timeTicks).tickFormat(fmtTime).tickSizeInner(-9).tickSizeOuter(0).tickPadding(12)),
    g.append("g").attr("transform", `translate(0,${top})`).call(d3.axisTop(x).tickValues(timeTicks).tickFormat("").tickSizeInner(-9).tickSizeOuter(0)),
    g.append("g").attr("transform", `translate(${plotLeft},0)`).call(d3.axisLeft(y).tickValues(yTicks).tickFormat(d3.format("d")).tickSizeInner(-9).tickSizeOuter(0).tickPadding(9)),
    g.append("g").attr("transform", `translate(${plotRight},0)`).call(d3.axisRight(y).tickValues(yTicks).tickFormat("").tickSizeInner(-9).tickSizeOuter(0))
  ];
  ax.forEach(a => {
    a.select(".domain").remove();
    a.selectAll("line").attr("stroke", "#000");
    a.selectAll("text").style("font-size", FONT + "px").attr("font-family", null);
  });
  g.append("rect").attr("x", plotLeft).attr("y", top).attr("width", plotRight - plotLeft).attr("height", bottom - top)
    .attr("fill", "none").attr("stroke", "#000").attr("stroke-width", 1.3);

  // y label
  g.append("text").attr("transform", `translate(50,${(top + bottom) / 2}) rotate(-90)`)
    .attr("text-anchor", "middle").attr("dy", "0.35em").style("font-size", "26px").text(yLabel);

  // detections: crosses (dense tracks overplot heavily), then red circles on top
  g.append("g").attr("stroke", "#000").attr("stroke-width", 2.5).attr("fill", "none")
    .selectAll("path").data(bandSets.flat()).join("path")
    .attr("transform", d => `translate(${x(d[0])},${y(d[1])})`).attr("d", xMarker);
  g.append("g").attr("stroke", "#000").attr("stroke-width", 1.1).attr("fill", "none")
    .selectAll("path").data(scatterSets.flat()).join("path")
    .attr("transform", d => `translate(${x(d[0])},${y(d[1])})`).attr("d", xMarker);
  g.append("g").attr("stroke", "#f0281a").attr("stroke-width", 1.3).attr("fill", "none")
    .selectAll("circle").data(redSet).join("circle")
    .attr("cx", d => x(d[0])).attr("cy", d => y(d[1])).attr("r", 6);
}

const yDepth = d3.scaleLinear().domain([0, 1000]).range([80, 391.5]);
const yRange = d3.scaleLinear().domain([0, 2000]).range([803.3, 491]);

panel(80, 391.5, yDepth, depthTicks, "whale depth (m)",
  [depthSurface, depthDescent, depthAscent, depthMidBand, depthDive1, depthDive2, depthDive3],
  [depthScatter], depthRed);
panel(491, 803.3, yRange, rangeTicks, "whale range (m)",
  [rangeEarlyBand, rangeBandUpper, rangeBandLower, rangeHump, rangeRightMass, rangeDives],
  [rangeScatter], rangeRed);
</script>
</body>
</html>
